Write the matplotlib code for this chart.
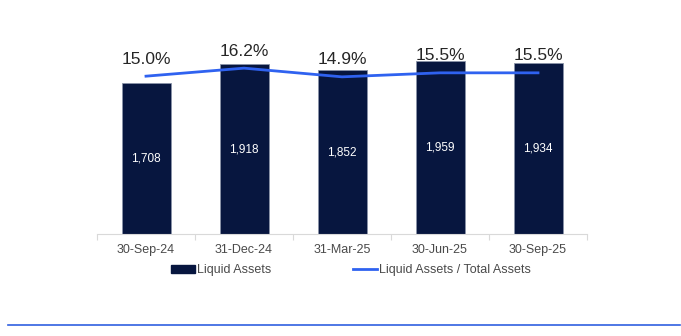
import matplotlib.pyplot as plt
from matplotlib.lines import Line2D
from matplotlib.patches import Patch
import numpy as np

plt.rcParams["font.family"] = ["Liberation Sans", "DejaVu Sans"]

# data
dates = ["30-Sep-24", "31-Dec-24", "31-Mar-25", "30-Jun-25", "30-Sep-25"]
liquid_assets = [1708, 1918, 1852, 1959, 1934]
ratio_pct = [15.0, 16.2, 14.9, 15.5, 15.5]

bar_color = "#07163f"
line_color = "#2f62f0"
text_gray = "#4a4a4a"

fig = plt.figure(figsize=(6.81, 3.36), dpi=100)
ax = fig.add_axes([97 / 681, 1 - 234 / 336, 490 / 681, 214 / 336])
x = np.arange(len(dates))

ax.bar(x, liquid_assets, width=0.5, color=bar_color, edgecolor="#8a93a8",
       linewidth=0.6, zorder=2)
for xi, v in zip(x, liquid_assets):
    ax.text(xi, v / 2, f"{v:,}", color="white", fontsize=8.5,
            ha="center", va="center", zorder=3)

ax.set_xlim(-0.5, len(dates) - 0.5)
ax.set_ylim(0, 2420)
ax.set_yticks([])
for s in ["top", "right", "left"]:
    ax.spines[s].set_visible(False)
ax.spines["bottom"].set_color("#d9d9d9")
ax.spines["bottom"].set_linewidth(0.8)

ax.set_xticks(x)
ax.set_xticklabels(dates, fontsize=9, color=text_gray)
ax.tick_params(axis="x", which="major", length=0, pad=7.5)
ax.set_xticks(np.arange(-0.5, len(dates), 1.0), minor=True)
ax.tick_params(axis="x", which="minor", length=4, color="#d9d9d9", width=0.8)

# secondary axis for the ratio
ax2 = ax.twinx()
ax2.plot(x, ratio_pct, color=line_color, linewidth=2, zorder=4)
ax2.set_ylim(-8.6, 23.4)
ax2.set_yticks([])
for s in ax2.spines.values():
    s.set_visible(False)
for xi, v in zip(x, ratio_pct):
    ax2.annotate(f"{v:.1f}%", (xi, v), xytext=(0, 9), textcoords="offset points",
                 ha="center", va="baseline", fontsize=12.5, color="#262626")

handles = [Patch(facecolor=bar_color, edgecolor=bar_color),
           Line2D([0], [0], color=line_color, linewidth=2)]
fig.legend(handles, ["Liquid Assets", "Liquid Assets / Total Assets"],
           loc="center", bbox_to_anchor=(351 / 681, 1 - 270 / 336), ncol=2,
           frameon=False, fontsize=9, handlelength=1.9, handleheight=0.6,
           handletextpad=0.2, columnspacing=6.5, labelcolor=text_gray)

fig.add_artist(Line2D([8 / 681, 680 / 681], [1 - 325 / 336, 1 - 325 / 336],
                      color="#3060e0", linewidth=1.2, transform=fig.transFigure))

fig.savefig("out.png", dpi=100)
